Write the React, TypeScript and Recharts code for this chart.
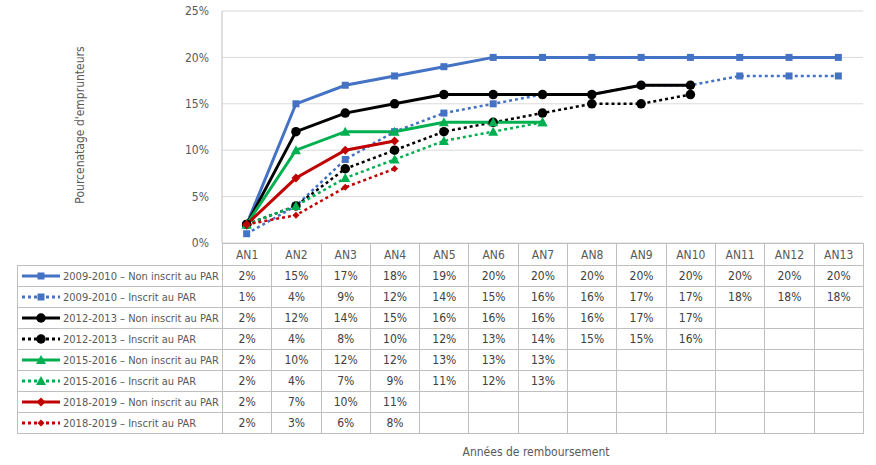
import React from 'react';
import { LineChart, Line, XAxis, YAxis, CartesianGrid } from 'recharts';

const annees = ['AN1', 'AN2', 'AN3', 'AN4', 'AN5', 'AN6', 'AN7', 'AN8', 'AN9', 'AN10', 'AN11', 'AN12', 'AN13'];

const p0910Non = [2, 15, 17, 18, 19, 20, 20, 20, 20, 20, 20, 20, 20];
const p0910Par = [1, 4, 9, 12, 14, 15, 16, 16, 17, 17, 18, 18, 18];
const p1213Non = [2, 12, 14, 15, 16, 16, 16, 16, 17, 17];
const p1213Par = [2, 4, 8, 10, 12, 13, 14, 15, 15, 16];
const p1516Non = [2, 10, 12, 12, 13, 13, 13];
const p1516Par = [2, 4, 7, 9, 11, 12, 13];
const p1819Non = [2, 7, 10, 11];
const p1819Par = [2, 3, 6, 8];

const yTicks = [0, 5, 10, 15, 20, 25];

type Shape = 'square' | 'circle' | 'triangle' | 'diamond';

const SERIES: { key: string; name: string; values: number[]; color: string; dotted: boolean; shape: Shape; size: number }[] = [
  { key: 's1', name: '2009-2010 – Non inscrit au PAR', values: p0910Non, color: '#4472C4', dotted: false, shape: 'square', size: 7 },
  { key: 's2', name: '2009-2010 – Inscrit au PAR', values: p0910Par, color: '#4472C4', dotted: true, shape: 'square', size: 7 },
  { key: 's3', name: '2012-2013 – Non inscrit au PAR', values: p1213Non, color: '#000000', dotted: false, shape: 'circle', size: 9.5 },
  { key: 's4', name: '2012-2013 – Inscrit au PAR', values: p1213Par, color: '#000000', dotted: true, shape: 'circle', size: 9.5 },
  { key: 's5', name: '2015-2016 – Non inscrit au PAR', values: p1516Non, color: '#00B050', dotted: false, shape: 'triangle', size: 10 },
  { key: 's6', name: '2015-2016 – Inscrit au PAR', values: p1516Par, color: '#00B050', dotted: true, shape: 'triangle', size: 10 },
  { key: 's7', name: '2018-2019 – Non inscrit au PAR', values: p1819Non, color: '#C00000', dotted: false, shape: 'diamond', size: 9 },
  { key: 's8', name: '2018-2019 – Inscrit au PAR', values: p1819Par, color: '#C00000', dotted: true, shape: 'diamond', size: 7 },
];

const data = annees.map((an, i) => {
  const row: Record<string, any> = { an };
  SERIES.forEach((s) => {
    row[s.key] = s.values[i];
  });
  return row;
});

const FONT = '"DejaVu Sans Condensed", "Roboto", sans-serif';
const TEXT = '#595959';
const BORDER = '#bfbfbf';

const Marker = ({ shape, cx, cy, color, size }: { shape: Shape; cx: number; cy: number; color: string; size: number }) => {
  const h = size / 2;
  if (shape === 'square') return <rect x={cx - h} y={cy - h} width={size} height={size} fill={color} />;
  if (shape === 'circle') return <circle cx={cx} cy={cy} r={h} fill={color} />;
  if (shape === 'triangle')
    return <polygon points={`${cx},${cy - h} ${cx + h},${cy + h * 0.8} ${cx - h},${cy + h * 0.8}`} fill={color} />;
  return <polygon points={`${cx},${cy - h} ${cx + h},${cy} ${cx},${cy + h} ${cx - h},${cy}`} fill={color} />;
};

const LegendKey = ({ s }: { s: (typeof SERIES)[number] }) => (
  <svg width={40} height={14} style={{ verticalAlign: 'middle', marginRight: 2 }}>
    <line
      x1={1}
      x2={39}
      y1={7}
      y2={7}
      stroke={s.color}
      strokeWidth={3}
      strokeDasharray={s.dotted ? '3 3' : undefined}
    />
    <Marker shape={s.shape} cx={20} cy={7} color={s.color} size={Math.min(s.size, 10)} />
  </svg>
);

const plotLeft = 222;
const plotRight = 863;
const colW = (plotRight - plotLeft) / annees.length;

export default function App() {
  const cell: React.CSSProperties = {
    border: `1px solid ${BORDER}`,
    textAlign: 'center',
    padding: 0,
    height: 20,
    color: '#404040',
  };
  return (
    <div style={{ position: 'absolute', left: 0, top: 0, width: 876, height: 465, background: '#fff', fontFamily: FONT }}>
      <LineChart width={876} height={262} data={data} margin={{ top: 11, right: 13, bottom: 19, left: 160 }}>
        <CartesianGrid vertical={false} stroke="#d9d9d9" />
        <XAxis dataKey="an" hide scale="band" />
        <YAxis
          domain={[0, 25]}
          ticks={yTicks}
          width={62}
          tickFormatter={(v: number) => `${v}%`}
          tickLine={false}
          axisLine={{ stroke: BORDER }}
          tickMargin={7}
          tick={{ fill: TEXT, fontSize: 12, fontFamily: FONT }}
        />
        {SERIES.map((s) => (
          <Line
            key={s.key}
            dataKey={s.key}
            stroke={s.color}
            strokeWidth={s.dotted ? 2.5 : 3}
            strokeDasharray={s.dotted ? '3 3' : undefined}
            isAnimationActive={false}
            connectNulls={false}
            activeDot={false}
            dot={(p: any) =>
              p.cx == null || p.cy == null || p.value == null ? (
                <g key={`${s.key}-${p.index}`} />
              ) : (
                <Marker key={`${s.key}-${p.index}`} shape={s.shape} cx={p.cx} cy={p.cy} color={s.color} size={s.size} />
              )
            }
          />
        ))}
      </LineChart>

      <div
        style={{
          position: 'absolute',
          left: 80,
          top: 125,
          transform: 'translate(-50%, -50%) rotate(-90deg)',
          whiteSpace: 'nowrap',
          fontSize: 12,
          color: TEXT,
        }}
      >
        Pourcenatage d'emprunteurs
      </div>

      <table
        style={{
          position: 'absolute',
          left: 17,
          top: 243,
          borderCollapse: 'collapse',
          tableLayout: 'fixed',
          width: plotRight - 17,
          fontSize: 12,
        }}
      >
        <colgroup>
          <col style={{ width: plotLeft - 17 }} />
          {annees.map((a) => (
            <col key={a} style={{ width: colW }} />
          ))}
        </colgroup>
        <tbody>
          <tr>
            <td style={{ ...cell, border: 'none', borderBottom: `1px solid ${BORDER}`, height: 21 }} />
            {annees.map((a) => (
              <td key={a} style={{ ...cell, height: 21, color: TEXT }}>
                {a}
              </td>
            ))}
          </tr>
          {SERIES.map((s) => (
            <tr key={s.key}>
              <td style={{ ...cell, textAlign: 'left', whiteSpace: 'nowrap', paddingLeft: 3, color: TEXT, fontSize: 11 }}>
                <LegendKey s={s} />
                <span style={{ verticalAlign: 'middle' }}>{s.name}</span>
              </td>
              {annees.map((a, i) => (
                <td key={a} style={cell}>
                  {s.values[i] != null ? `${s.values[i]}%` : ''}
                </td>
              ))}
            </tr>
          ))}
        </tbody>
      </table>

      <div style={{ position: 'absolute', left: 536, top: 452, transform: 'translate(-50%, -50%)', fontSize: 12, color: TEXT, whiteSpace: 'nowrap' }}>
        Années de remboursement
      </div>
    </div>
  );
}
